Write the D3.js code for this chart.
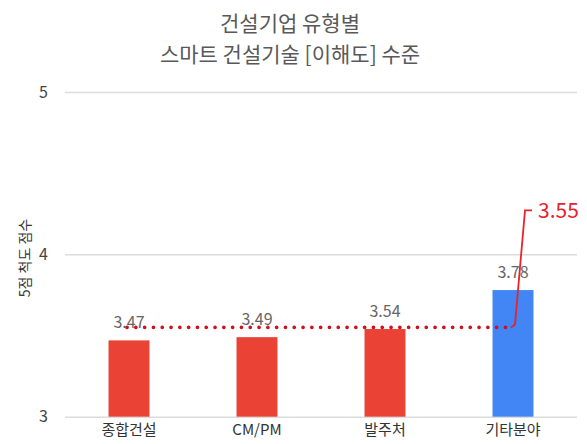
<!DOCTYPE html>
<html>
<head>
<meta charset="utf-8">
<script src="https://cdn.jsdelivr.net/npm/d3@7"></script>
<style>
  html, body { margin: 0; padding: 0; background: #fff; }
  svg { display: block; font-family: "Noto Sans CJK KR", "Noto Sans", sans-serif; }
</style>
</head>
<body>
<svg id="chart" width="587" height="444"></svg>
<script>
// Survey results: mean understanding score by company type (5-point scale)
const categories = ["종합건설", "CM/PM", "발주처", "기타분야"];
const scores = [3.47, 3.49, 3.54, 3.78];
const barColors = ["#ea4335", "#ea4335", "#ea4335", "#4285f4"];
const yTicks = [3, 4, 5];
const overallAverage = 3.55;
const titleLines = ["건설기업 유형별", "스마트 건설기술 [이해도] 수준"];
const yTitle = "5점 척도 점수";

const svg = d3.select("#chart");
const margin = { left: 65, right: 10, top: 92, bottom: 27 };
const W = 587, H = 444;

const x = d3.scaleBand()
  .domain(categories)
  .range([margin.left, W - margin.right])
  .paddingInner(0.68)
  .paddingOuter(0.34);

const y = d3.scaleLinear()
  .domain([3, 5])
  .range([416.7, 92]);

// Two-line title
svg.append("g")
  .selectAll("text")
  .data(titleLines)
  .join("text")
  .attr("x", 290)
  .attr("y", (d, i) => 30.5 + i * 31)
  .attr("text-anchor", "middle")
  .attr("font-size", 21)
  .attr("fill", "#595959")
  .text(d => d);

// Gridlines and y tick labels
const yAxis = d3.axisLeft(y).tickValues(yTicks).tickSize(-(W - margin.right - margin.left)).tickFormat(d3.format("d"));
const gy = svg.append("g")
  .attr("transform", `translate(${margin.left},0)`)
  .call(yAxis);
gy.select(".domain").remove();
gy.selectAll(".tick line").attr("stroke", "#dcdcdc").attr("stroke-width", 1.5);
gy.selectAll(".tick text")
  .attr("x", -17)
  .attr("font-size", 16)
  .attr("fill", "#444")
  .attr("font-family", "'Noto Sans CJK KR', sans-serif");

// Y axis title
svg.append("text")
  .attr("transform", `translate(30,258) rotate(-90)`)
  .attr("text-anchor", "middle")
  .attr("font-size", 14)
  .attr("fill", "#333")
  .text(yTitle);

// Bars
svg.append("g")
  .selectAll("rect")
  .data(scores)
  .join("rect")
  .attr("x", (d, i) => x(categories[i]))
  .attr("width", x.bandwidth())
  .attr("y", d => y(d))
  .attr("height", d => y(3) - y(d))
  .attr("fill", (d, i) => barColors[i]);

// Value labels
svg.append("g")
  .selectAll("text")
  .data(scores)
  .join("text")
  .attr("x", (d, i) => x(categories[i]) + x.bandwidth() / 2)
  .attr("y", d => y(d) - 12)
  .attr("text-anchor", "middle")
  .attr("font-size", 16)
  .attr("fill", "#666")
  .text(d => d.toFixed(2));

// Category labels
const xAxis = d3.axisBottom(x).tickSize(0);
const gx = svg.append("g")
  .attr("transform", `translate(0,${y(3)})`)
  .call(xAxis);
gx.select(".domain").remove();
gx.selectAll(".tick text")
  .attr("dy", "1.0em")
  .attr("font-size", 15)
  .attr("fill", "#333")
  .attr("font-family", "'Noto Sans CJK KR', sans-serif");

// Overall average: dotted line across bar centres plus callout
const first = x(categories[0]) + x.bandwidth() / 2 - 2;
const last = x(categories[categories.length - 1]) + x.bandwidth() / 2 - 2;
const avgY = y(overallAverage);
svg.append("line")
  .attr("x1", first).attr("x2", last)
  .attr("y1", avgY).attr("y2", avgY)
  .attr("stroke", "#d0101c")
  .attr("stroke-width", 3.6)
  .attr("stroke-linecap", "round")
  .attr("stroke-dasharray", "0.1 8.7");

const calloutY = y(4) - 44;
svg.append("path")
  .attr("d", d3.line()([[last, avgY], [last + 4, avgY - 3], [last + 14, calloutY], [last + 21, calloutY]]))
  .attr("fill", "none")
  .attr("stroke", "#e8232d")
  .attr("stroke-width", 1.8);

svg.append("text")
  .attr("x", last + 27)
  .attr("y", calloutY + 8)
  .attr("font-size", 21)
  .attr("fill", "#e8232d")
  .text(overallAverage.toFixed(2));
</script>
</body>
</html>
